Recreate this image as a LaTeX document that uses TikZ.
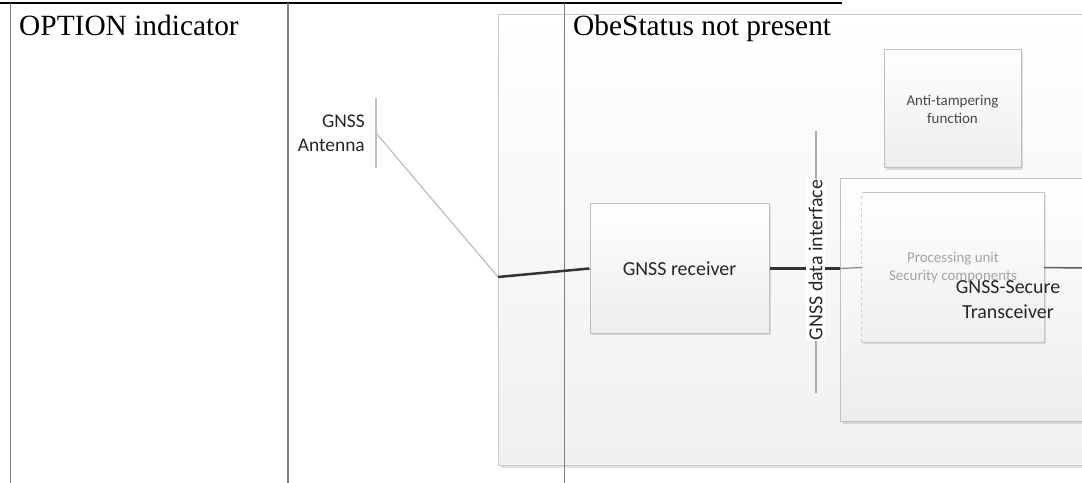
\documentclass[tikz,border=0pt]{standalone}
\usepackage{fontspec}
\setmainfont{Liberation Serif}
\newfontfamily\calfont{Carlito}
\usetikzlibrary{shadows,calc}
\definecolor{tblline}{HTML}{7F7F7F}
\definecolor{boxline}{HTML}{BFBFBF}
\definecolor{bigline}{HTML}{CACACA}
\definecolor{boxfill}{HTML}{EDEDED}
\definecolor{bigfill}{HTML}{F0F0F0}
\definecolor{conn}{HTML}{333333}
\definecolor{lightconn}{HTML}{BDBDBD}
\definecolor{txt}{HTML}{262626}
\definecolor{paletxt}{HTML}{A3A3A3}
\tikzset{
  tabletext/.style={font=\fontsize{29.5}{34}\selectfont, text=black, inner sep=0pt},
  tblrule/.style={draw=tblline, line width=1.5bp},
  diagtext/.style={font=\calfont\fontsize{20}{25}\selectfont, text=txt, inner sep=0pt},
  smalltext/.style={font=\calfont\fontsize{15}{18}\selectfont, inner sep=0pt, align=center},
  blockbox/.style={draw=boxline, line width=1bp, top color=white, bottom color=boxfill,
    drop shadow={shadow xshift=2bp, shadow yshift=-2bp, fill=black, opacity=0.12},
    inner sep=0pt},
  bigbox/.style={draw=bigline, line width=1bp, top color=white, bottom color=bigfill,
    drop shadow={shadow xshift=2.5bp, shadow yshift=-2.5bp, fill=black, opacity=0.12},
    inner sep=0pt},
  thickconn/.style={draw=conn, line width=2.5bp},
  thinconn/.style={draw=lightconn, line width=1.2bp},
  midconn/.style={draw=conn!80, line width=1.5bp},
}
\begin{document}
\begin{tikzpicture}[x=1bp, y=1bp]
\useasboundingbox (0,0) rectangle (1082,-483);
\clip (0,0) rectangle (1082,-483);
% large system box
\node[bigbox, minimum width=620bp, minimum height=450.5bp, anchor=north west] (sys) at (497.5,-14.5) {};
% table rules
\coordinate (t0) at (0,-3);
\coordinate (t1) at (842,-3);
\draw[draw=black, line width=1.3bp] (t0) -- (t1);
\coordinate (c1t) at (10.5,-3); \coordinate (c1b) at (10.5,-483);
\coordinate (c2t) at (288,-3);  \coordinate (c2b) at (288,-483);
\coordinate (c3t) at (564.5,-3); \coordinate (c3b) at (564.5,-483);
\draw[tblrule] (c1t) -- (c1b);
\draw[tblrule] (c2t) -- (c2b);
\draw[tblrule, line width=1.2bp] (c3t) -- (c3b);
\node[tabletext, anchor=base west] (opt) at (19,-35.5) {OPTION indicator};
\node[tabletext, anchor=base west] (obe) at (573,-36) {ObeStatus not present};
% secure transceiver outer box
\node[blockbox, minimum width=260bp, minimum height=243bp, anchor=north west] (outer) at (840,-178) {};
% anti-tampering
\node[blockbox, minimum width=137bp, minimum height=118bp, text=txt!90] (atf) at (952.5,-109) {};
\node[smalltext, text=txt!85] (atft) at (atf.center) {Anti-tampering\\function};
% GNSS receiver
\node[blockbox, minimum width=179bp, minimum height=129bp] (rx) at (679.5,-268.5) {};
\node[diagtext] (rxt) at (rx.center) {GNSS receiver};
% processing unit
\node[inner sep=0pt, minimum width=182bp, minimum height=149bp, top color=white, bottom color=boxfill!90,
  drop shadow={shadow xshift=2bp, shadow yshift=-2bp, fill=black, opacity=0.10}] (proc) at (953,-267.5) {};
\draw[draw=boxline!90, line width=1bp] (proc.north west) -- (proc.north east) -- (proc.south east) -- (proc.south west);
\draw[draw=boxline!80, line width=1bp, dashed] (proc.south west) -- (proc.north west);
\node[smalltext, text=paletxt] (proct) at (proc.center) {Processing unit\\Security components};
\node[diagtext, align=center] (sec) at (1008,-299.5) {GNSS-Secure\\Transceiver};
% antenna
\coordinate (abT) at (376,-98);
\coordinate (abB) at (376,-168);
\coordinate (aj) at (376,-133);
\coordinate (j) at (498,-277);
\draw[draw=boxline, line width=1.5bp] (abT) -- (abB);
\node[font=\calfont\fontsize{19.5}{24.5}\selectfont, text=txt, inner sep=0pt, align=right, anchor=east] (ant) at (365,-133) {GNSS\\Antenna};
\draw[thinconn] (aj) -- (j);
\draw[thickconn] (j) -- (rx.west);
% interface
\coordinate (ifT) at (816,-131);
\coordinate (ifB) at (816,-393);
\draw[draw=boxline!90!black, line width=1.4bp] (ifT) -- (ifB);
\draw[thickconn] (rx.east) -- (rx.east -| outer.west);
\draw[draw=conn!60, line width=1.2bp] (rx.east -| outer.west) -- (proc.west);
\node[diagtext, fill=white, rotate=90, inner xsep=1bp, inner ysep=3bp] (iface) at (815.5,-260) {GNSS data interface};
\coordinate (re) at (1082,-268);
\draw[midconn] (proc.east) -- (re);
\end{tikzpicture}
\end{document}
